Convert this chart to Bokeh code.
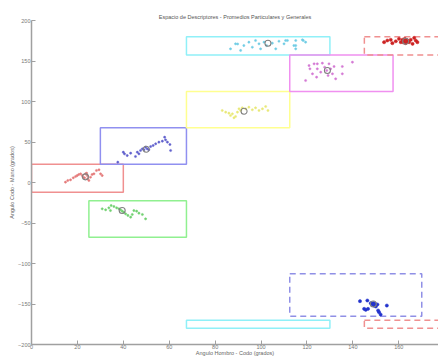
from bokeh.plotting import figure
from bokeh.embed import file_html
from bokeh.resources import INLINE
from bokeh.models import ColumnDataSource

# ---- regions (boxes) ----
box_names = ["red", "blue", "green", "yellow", "cyan_top", "magenta", "red_top_dash", "blue_dash", "cyan_bot", "red_bot_dash"]
box_x0 = [0, 30, 25, 67.5, 67.5, 112.5, 145, 112.5, 67.5, 145]
box_x1 = [40, 67.5, 67.5, 112.5, 130, 157.5, 180, 170, 130, 180]
box_y0 = [-12, 22.5, -67.5, 67.5, 157.5, 112.5, 157.5, -165, -180, -180]
box_y1 = [22.5, 67.5, -22.5, 112.5, 180, 157.5, 180, -112.5, -170, -170]
box_dashed = [False, False, False, False, False, False, True, True, False, True]
box_colors = ["#f09090", "#9090f0", "#90f090", "#ffff90", "#90f0f8", "#f090f0", "#f09090", "#9090e6", "#90f0f8", "#f09090"]

# ---- clusters ----
red_x = [14.8, 15.8, 17.0, 18.2, 19.2, 19.9, 20.6, 21.4, 22.1, 22.5, 23.1, 23.5, 24.0, 24.3, 24.5, 25.0, 25.7, 26.4, 27.2, 28.3, 29.4, 30.1, 30.8]
red_y = [0.4, 2.5, 3.3, 5.8, 7.4, 8.6, 9.9, 10.7, 8.6, 6.5, 5.8, 10.7, 11.5, 8.6, 4.6, 2.5, 6.5, 9.9, 10.7, 14.8, 15.7, 10.7, 8.6]

blue_x = [37.6, 40.0, 40.5, 41.7, 43.2, 45.3, 46.1, 46.8, 47.5, 48.3, 49.0, 49.7, 50.4, 51.1, 51.9, 53.0, 54.1, 55.5, 57.0, 58.0, 58.4, 59.2, 60.3, 60.6]
blue_y = [25.1, 37.4, 35.4, 33.3, 36.2, 32.1, 37.4, 35.4, 39.5, 41.6, 40.4, 43.6, 41.6, 40.4, 44.4, 45.7, 47.8, 49.8, 51.0, 55.9, 52.7, 49.8, 46.9, 39.5]

green_x = [30.8, 32.3, 33.7, 34.4, 34.7, 35.9, 37.1, 38.1, 38.8, 39.5, 40.2, 41.0, 42.0, 43.2, 43.9, 44.6, 45.8, 46.8, 48.3, 49.7]
green_y = [-32.5, -33.7, -31.3, -34.6, -28.4, -29.6, -31.3, -32.5, -33.7, -35.4, -36.6, -38.7, -40.7, -42.8, -39.5, -34.6, -35.4, -37.9, -39.5, -44.9]

yellow_x = [83.1, 84.6, 86.0, 86.7, 87.5, 88.2, 88.9, 89.7, 90.4, 91.1, 91.8, 93.3, 94.7, 96.2, 97.6, 99.1, 100.6, 102.0, 103.0]
yellow_y = [88.9, 86.8, 85.6, 82.7, 84.8, 79.9, 81.5, 86.8, 91.0, 88.9, 92.2, 91.0, 93.0, 89.8, 92.2, 88.9, 91.0, 93.8, 88.9]

cyan_x = [86.7, 88.9, 91.1, 92.5, 94.7, 96.2, 97.6, 99.1, 99.8, 101.3, 102.4, 104.9, 106.4, 107.8, 110.0, 111.5, 114.3, 115.1, 118.0, 119.4, 110.7, 115.1, 115.1, 118.4, 89.8]
cyan_y = [165.0, 171.2, 163.0, 169.1, 173.2, 167.0, 175.3, 171.2, 165.0, 173.2, 169.1, 172.0, 165.0, 174.4, 171.2, 175.3, 169.1, 165.0, 176.2, 173.2, 175.3, 175.3, 169.1, 175.3, 171.0]

magenta_x = [119.4, 120.9, 121.3, 122.4, 123.1, 124.2, 124.5, 126.0, 126.7, 127.7, 128.6, 129.2, 129.6, 130.3, 131.1, 131.8, 132.5, 135.4, 135.4, 139.8, 124.5]
magenta_y = [125.9, 144.4, 140.3, 134.2, 146.5, 130.0, 140.3, 136.2, 147.3, 142.3, 138.3, 132.1, 146.5, 140.3, 134.2, 143.2, 128.0, 143.2, 134.2, 148.5, 146.5]

darkred_x = [153.6, 155.0, 156.5, 157.2, 158.7, 160.1, 160.9, 161.6, 162.3, 162.6, 163.0, 163.8, 164.5, 165.2, 166.0, 166.7, 167.4, 168.1, 162.0, 163.5, 164.0]
darkred_y = [173.2, 175.3, 176.2, 172.0, 174.4, 177.4, 173.2, 176.2, 174.4, 177.4, 172.0, 175.3, 173.2, 176.2, 171.2, 178.6, 175.3, 173.2, 173.0, 175.8, 174.0]

darkblue_x = [143.1, 144.9, 145.6, 146.3, 146.6, 147.8, 148.5, 148.9, 149.2, 149.7, 150.0, 150.7, 151.0, 151.4, 152.1, 154.8]
darkblue_y = [-146.5, -156.0, -157.2, -145.7, -156.0, -149.0, -150.6, -149.0, -151.9, -149.8, -153.1, -150.6, -158.0, -160.1, -163.0, -151.9]

# centroids (general averages)
cent_x = [23.5, 50.0, 39.5, 92.6, 103.0, 128.9, 163.0, 148.9]
cent_y = [7.0, 41.0, -34.5, 88.0, 172.0, 138.3, 174.4, -150.0]

x_ticks = [0, 20, 40, 60, 80, 100, 120, 140, 160]
y_ticks = [-200, -150, -100, -50, 0, 50, 100, 150, 200]

title_text = "Espacio de Descriptores - Promedios Particulares y Generales"
x_label = "Angulo Hombro - Codo (grados)"
y_label = "Angulo Codo - Mano (grados)"

p = figure(width=438, height=358, output_backend="svg", toolbar_location=None,
           x_range=(0, 177.3), y_range=(-200, 200), title=title_text,
           min_border_left=31, min_border_right=0, min_border_top=20, min_border_bottom=14)
p.title.align = "center"
p.title.text_font_size = "5.5px"
p.title.text_font_style = "normal"
p.title.text_color = "#555555"
p.title.text_font = "Liberation Sans"
p.title.standoff = 1
p.outline_line_color = None
p.grid.visible = False
p.background_fill_color = "white"
p.border_fill_color = "white"

for ax in (p.xaxis[0], p.yaxis[0]):
    ax.axis_line_color = "#a0a0a0"
    ax.axis_line_width = 1.5
    ax.major_tick_line_color = "#a0a0a0"
    ax.major_tick_in = 4
    ax.major_tick_out = 0
    ax.minor_tick_line_color = None
    ax.major_label_text_font_size = "5.5px"
    ax.major_label_text_color = "#777777"
    ax.major_label_text_font = "Liberation Sans"
    ax.axis_label_text_font_size = "5.5px"
    ax.axis_label_text_color = "#666666"
    ax.axis_label_text_font_style = "normal"
    ax.axis_label_text_font = "Liberation Sans"
    ax.major_label_standoff = 1
    ax.axis_label_standoff = 0

p.xaxis.major_label_standoff = 0
p.xaxis.axis_label_standoff = -2
p.xaxis.ticker = x_ticks
p.yaxis.ticker = y_ticks
p.xaxis.axis_label = x_label
p.yaxis.axis_label = y_label

# boxes
solid = dict(x0=[], x1=[], y0=[], y1=[], c=[])
dashed = dict(x0=[], x1=[], y0=[], y1=[], c=[])
for i in range(len(box_names)):
    d = dashed if box_dashed[i] else solid
    d["x0"].append(box_x0[i]); d["x1"].append(box_x1[i])
    d["y0"].append(box_y0[i]); d["y1"].append(box_y1[i])
    d["c"].append(box_colors[i])
p.quad(left="x0", right="x1", bottom="y0", top="y1", source=ColumnDataSource(solid),
       fill_color=None, line_color="c", line_width=1.5)
p.quad(left="x0", right="x1", bottom="y0", top="y1", source=ColumnDataSource(dashed),
       fill_color=None, line_color="c", line_width=1.5, line_dash="6 4")

clusters = [
    (red_x, red_y, "#e47a7a", 2.2),
    (blue_x, blue_y, "#6060cc", 2.2),
    (green_x, green_y, "#70d070", 2.2),
    (yellow_x, yellow_y, "#e8e878", 2.2),
    (cyan_x, cyan_y, "#70cce4", 2.2),
    (magenta_x, magenta_y, "#d47ad4", 2.2),
    (darkred_x, darkred_y, "#cc2222", 3.2),
    (darkblue_x, darkblue_y, "#2233cc", 3.2),
]
for xs, ys, col, sz in clusters:
    p.scatter(xs, ys, marker="circle", size=sz, fill_color=col, line_color=col, line_width=0.5)

p.scatter(cent_x, cent_y, marker="circle", size=6, fill_color=None, line_color="#808080", line_width=1.1)

open("out.html", "w").write(file_html(p, INLINE))
